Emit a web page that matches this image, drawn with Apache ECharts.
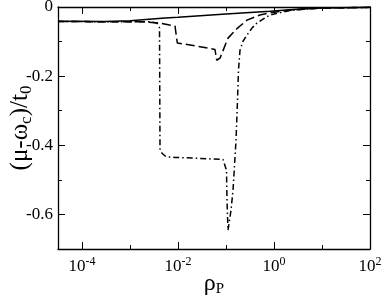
<!DOCTYPE html>
<html>
<head>
<meta charset="utf-8">
<script src="https://cdn.jsdelivr.net/npm/echarts@6/dist/echarts.min.js"></script>
<style>html,body{margin:0;padding:0;background:#fff}#c{width:382px;height:296px}</style>
</head>
<body>
<div id="c"></div>
<script>
// ---- data ----
const solidX = [3.1623e-5, 3.02e-4, 0.001, 0.00537, 0.01, 0.1, 0.825, 3.47, 10, 100];
const solidY = [-0.041, -0.042, -0.040, -0.032, -0.030, -0.020, -0.012, -0.006, -0.003, -0.001];

const dashX = [3.1623e-5, 0.002054, 0.004217, 0.00866, 0.0094, 0.00967, 0.0226, 0.059, 0.064, 0.075, 0.1101, 0.1737, 0.274, 0.511, 0.825, 2.154, 9.08, 100];
const dashY = [-0.042, -0.043, -0.047, -0.055, -0.055, -0.104, -0.112, -0.123, -0.154, -0.148, -0.090, -0.061, -0.038, -0.023, -0.017, -0.009, -0.003, -0.001];

const dashDotX = [3.1623e-5, 0.00261, 0.003652, 0.00412, 0.004217, 0.004642, 0.005623, 0.00866, 0.0287, 0.0866, 0.0953, 0.1024, 0.1049, 0.1101, 0.1271, 0.140, 0.1616, 0.1737, 0.182, 0.1957, 0.226, 0.274, 0.348, 0.4423, 0.590, 0.825, 2.154, 9.08, 100];
const dashDotY = [-0.042, -0.043, -0.046, -0.060, -0.410, -0.423, -0.433, -0.435, -0.438, -0.441, -0.446, -0.472, -0.560, -0.646, -0.588, -0.530, -0.386, -0.270, -0.183, -0.125, -0.099, -0.081, -0.061, -0.046, -0.035, -0.023, -0.010, -0.003, -0.001];

const xMajorTicks = [1e-4, 1e-2, 1, 100];
const xMinorTicks = [1e-3, 1e-1, 10];
const yMajorTicks = [-0.6, -0.4, -0.2, 0];
const yMinorTicks = [-0.7, -0.5, -0.3, -0.1];

const xMin = 3.1623e-5, xMax = 100, yMin = -0.7, yMax = 0;

function pairs(xs, ys) { return xs.map((x, i) => [x, ys[i]]); }

const font = 'Liberation Serif';
const black = '#000';

function xAx(pos, ticks, len, labels, line) {
  return {
    type: 'log', logBase: 10, min: xMin, max: xMax, position: pos,
    axisLine: { show: line, onZero: false, lineStyle: { color: black, width: 1.3 } },
    axisTick: { show: true, inside: true, length: len, customValues: ticks, lineStyle: { color: black, width: 1 } },
    axisLabel: labels ? {
      show: true, customValues: ticks, margin: 7,
      formatter: v => '{b|10}{s|' + Math.round(Math.log10(v)) + '}',
      rich: {
        b: { fontFamily: font, fontSize: 17, color: black },
        s: { fontFamily: font, fontSize: 12, color: black, padding: [0, 0, 10, 0] }
      }
    } : { show: false },
    splitLine: { show: false }
  };
}
function yAx(pos, ticks, len, labels, line) {
  return {
    type: 'value', min: yMin, max: yMax, position: pos,
    axisLine: { show: line, onZero: false, lineStyle: { color: black, width: 1.3 } },
    axisTick: { show: true, inside: true, length: len, customValues: ticks, lineStyle: { color: black, width: 1 } },
    axisLabel: labels ? {
      show: true, customValues: ticks, margin: 5,
      formatter: v => (Math.abs(v) < 1e-9 ? '0' : v.toFixed(1)),
      fontFamily: font, fontSize: 17, color: black
    } : { show: false },
    splitLine: { show: false }
  };
}

const xAxes = [
  xAx('bottom', xMajorTicks, 7, true, true),
  xAx('bottom', xMinorTicks, 4, false, false),
  xAx('top', xMajorTicks, 7, false, true),
  xAx('top', xMinorTicks, 4, false, false)
];
xAxes[0].name = '{r|ρ}{p|P}';
xAxes[0].nameLocation = 'middle';
xAxes[0].nameGap = 21;
xAxes[0].nameMoveOverlap = false;
xAxes[0].nameTextStyle = {
  rich: {
    r: { fontFamily: font, fontSize: 24, color: black },
    p: { fontFamily: font, fontSize: 15, color: black, padding: [12, 0, 0, 0] }
  }
};

const yAxes = [
  yAx('left', yMajorTicks, 7, true, true),
  yAx('left', yMinorTicks, 4, false, false),
  yAx('right', yMajorTicks, 7, false, true),
  yAx('right', yMinorTicks, 4, false, false)
];
yAxes[0].name = '{a|(μ-ω}{c|c}{a|)/t}{c|0}';
yAxes[0].nameLocation = 'middle';
yAxes[0].nameRotate = 90;
yAxes[0].nameGap = 23;
yAxes[0].nameMoveOverlap = false;
yAxes[0].nameTextStyle = {
  rich: {
    a: { fontFamily: font, fontSize: 25, color: black },
    c: { fontFamily: font, fontSize: 17, color: black, padding: [13, 0, 0, 0] }
  }
};

const chart = echarts.init(document.getElementById('c'), null, { renderer: 'canvas' });
chart.setOption({
  animation: false,
  backgroundColor: '#fff',
  grid: { left: 58, right: 12, top: 7, bottom: 47, containLabel: false, outerBoundsMode: 'none' },
  xAxis: xAxes,
  yAxis: yAxes,
  series: [
    { type: 'line', data: pairs(solidX, solidY), showSymbol: false, symbol: 'none',
      lineStyle: { color: black, width: 1.5, type: 'solid' }, z: 3 },
    { type: 'line', data: pairs(dashX, dashY), showSymbol: false, symbol: 'none',
      lineStyle: { color: black, width: 1.5, type: [9, 4] }, z: 3 },
    { type: 'line', data: pairs(dashDotX, dashDotY), showSymbol: false, symbol: 'none',
      lineStyle: { color: black, width: 1.5, type: [6, 3, 1.5, 3] }, z: 3 }
  ]
});
</script>
</body>
</html>
